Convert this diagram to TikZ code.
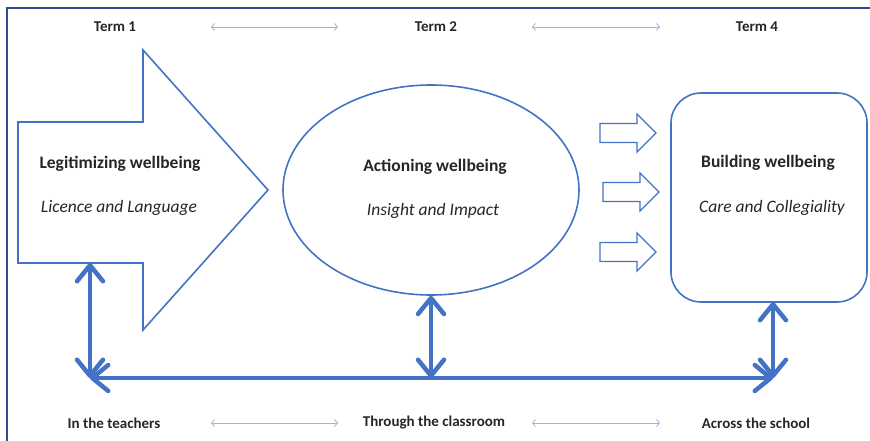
\documentclass[tikz,border=0pt]{standalone}
\usepackage{fontspec}
\setmainfont{Carlito}
\usetikzlibrary{arrows.meta,shapes.geometric}
\definecolor{ob}{HTML}{4472C4}
\definecolor{lb}{HTML}{9DB3DC}
\definecolor{tx}{HTML}{262626}
\definecolor{frame}{HTML}{2F4C8C}
\begin{document}
\begin{tikzpicture}[x=1pt,y=-1pt,
 outl/.style={draw=ob, line width=1.6pt},
 bigarrow/.style={draw=ob, line width=4.5pt, line cap=round, {Straight Barb[length=16pt,width=26pt,round]}-{Straight Barb[length=16pt,width=26pt,round]}},
 thinarrow/.style={draw=lb, line width=0.8pt, {Straight Barb[length=3pt,width=7pt]}-{Straight Barb[length=3pt,width=7pt]}},
 lab/.style={font=\bfseries\fontsize{15}{17}\selectfont, text=tx, inner sep=0pt},
 ttl/.style={font=\bfseries\fontsize{17.5}{20}\selectfont, text=tx, inner sep=0pt},
 sub/.style={font=\itshape\fontsize{17.5}{20}\selectfont, text=tx, inner sep=0pt}]
\useasboundingbox (0,0) rectangle (870,441);
% frame (top and left edges)
\draw[frame, line width=2pt] (7,441) -- (7,8) -- (870,8);
% big block arrow
\draw[outl] (18,122) -- (143,122) -- (143,50) -- (268,190) -- (143,330) -- (143,263) -- (18,263) -- cycle;
\coordinate (legb) at (90,263);
% ellipse
\node[outl, ellipse, minimum width=296pt, minimum height=210pt, inner sep=0pt] (act) at (431,190) {};
% rounded rectangle
\node[outl, rectangle, rounded corners=30pt, minimum width=196pt, minimum height=209pt, inner sep=0pt] (bld) at (769,197.5) {};
% small block arrows
\foreach \yy/\dx in {133/0,192/3,252/0}
  \draw[outl, line width=1.3pt] ({600+\dx},{\yy-9.5}) -- ({637+\dx},{\yy-9.5}) -- ({637+\dx},{\yy-19}) -- ({656+\dx},{\yy}) -- ({637+\dx},{\yy+19}) -- ({637+\dx},{\yy+9.5}) -- ({600+\dx},{\yy+9.5}) -- cycle;
% texts
\node[ttl] (t1) at (120,164) {Legitimizing wellbeing};
\node[sub] (s1) at (119,208) {Licence and Language};
\node[ttl] (t2) at (435,167) {Actioning wellbeing};
\node[sub] (s2) at (433,211) {Insight and Impact};
\node[ttl] (t3) at (768,163) {Building wellbeing};
\node[sub] (s3) at (772,208) {Care and Collegiality};
\node[lab] (a1) at (115,27) {Term 1};
\node[lab] (a2) at (436,27) {Term 2};
\node[lab] (a3) at (757,27) {Term 4};
\node[lab] (b1) at (114,423) {In the teachers};
\node[lab] (b2) at (434,423) {Through the classroom};
\node[lab] (b3) at (756,423) {Across the school};
% thin arrows
\coordinate (p1) at (211,27); \coordinate (p2) at (338,27);
\coordinate (p3) at (532,27); \coordinate (p4) at (660,27);
\coordinate (q1) at (211,423); \coordinate (q2) at (338,423);
\coordinate (q3) at (532,423); \coordinate (q4) at (660,423);
\draw[thinarrow] (p1) -- (p2);
\draw[thinarrow] (p3) -- (p4);
\draw[thinarrow] (q1) -- (q2);
\draw[thinarrow] (q3) -- (q4);
% thick arrows
\coordinate (c1) at (90,378);
\coordinate (c2) at (431,378);
\coordinate (c3) at (773,378);
\coordinate (bldb) at (773,302);
\draw[bigarrow] (legb) -- (c1);
\draw[bigarrow] (c1) -- (c3);
\draw[bigarrow] (act.south) -- (c2);
\draw[bigarrow] (bldb) -- (c3);
\end{tikzpicture}
\end{document}
